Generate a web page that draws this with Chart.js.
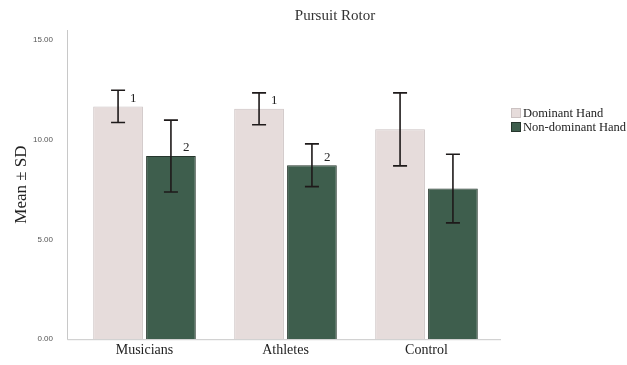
<!DOCTYPE html>
<html>
<head>
<meta charset="utf-8">
<script src="https://cdn.jsdelivr.net/npm/chart.js@4"></script>
<style>
  html, body { margin: 0; padding: 0; background: #fff; overflow: hidden; }
  canvas { display: block; }
</style>
</head>
<body>
<canvas id="rotorChart" width="627" height="365"></canvas>
<script>
'use strict';

// Datos
const groups = ['Musicians', 'Athletes', 'Control'];
const dominantMean = [11.67, 11.55, 10.52];
const dominantSd = [0.81, 0.80, 1.83];
const nonDominantMean = [9.18, 8.72, 7.55];
const nonDominantSd = [1.80, 1.07, 1.72];
const dominantNotes = ['1', '1', ''];
const nonDominantNotes = ['2', '2', ''];
const yTicks = [0, 5, 10, 15];

const serif = '"Liberation Serif", "DejaVu Serif", serif';

const errorBars = {
    id: 'errorBars',
    afterDatasetsDraw(chart) {
        const ctx = chart.ctx;
        const y = chart.scales.y;
        const sds = [dominantSd, nonDominantSd];
        const notes = [dominantNotes, nonDominantNotes];
        ctx.save();
        chart.data.datasets.forEach((ds, di) => {
            const meta = chart.getDatasetMeta(di);
            meta.data.forEach((bar, i) => {
                const m = ds.data[i];
                const sd = sds[di][i];
                const top = y.getPixelForValue(m + sd);
                const bot = y.getPixelForValue(m - sd);
                ctx.strokeStyle = '#1e1a1a';
                ctx.lineWidth = 1.6;
                ctx.beginPath();
                ctx.moveTo(bar.x, top);
                ctx.lineTo(bar.x, bot);
                ctx.moveTo(bar.x - 7, top);
                ctx.lineTo(bar.x + 7, top);
                ctx.moveTo(bar.x - 7, bot);
                ctx.lineTo(bar.x + 7, bot);
                ctx.stroke();
                if (notes[di][i]) {
                    ctx.fillStyle = '#222';
                    ctx.font = '13px ' + serif;
                    ctx.textAlign = 'left';
                    ctx.textBaseline = 'middle';
                    ctx.fillText(notes[di][i], bar.x + 12, bar.y - 8);
                }
            });
        });
        ctx.restore();
    }
};

const decorations = {
    id: 'decorations',
    afterDraw(chart) {
        const ctx = chart.ctx;
        const a = chart.chartArea;
        const x = chart.scales.x;
        ctx.save();
        // ejes
        ctx.strokeStyle = '#c8c8c8';
        ctx.lineWidth = 1;
        ctx.beginPath();
        ctx.moveTo(a.left - 6.5, a.top);
        ctx.lineTo(a.left - 6.5, a.bottom + 0.5);
        ctx.lineTo(a.right + 4, a.bottom + 0.5);
        ctx.stroke();
        // etiquetas del eje x
        ctx.fillStyle = '#222';
        ctx.font = '14px ' + serif;
        ctx.textAlign = 'center';
        ctx.textBaseline = 'middle';
        chart.data.labels.forEach((lab, i) => {
            ctx.fillText(lab, x.getPixelForValue(i), a.bottom + 11);
        });
        // título
        ctx.fillStyle = '#333';
        ctx.font = '15px ' + serif;
        ctx.fillText('Pursuit Rotor', 335, 16);
        // leyenda
        const items = chart.data.datasets;
        ctx.font = '12.5px ' + serif;
        ctx.textAlign = 'left';
        items.forEach((ds, i) => {
            const ly = 113 + i * 14;
            ctx.fillStyle = ds.backgroundColor;
            ctx.fillRect(511, ly - 5, 10, 10);
            ctx.strokeStyle = ds.borderColor;
            ctx.strokeRect(511.5, ly - 4.5, 9, 9);
            ctx.fillStyle = '#222';
            ctx.fillText(ds.label, 523, ly + 0.5);
        });
        ctx.restore();
    }
};

const chart = new Chart(document.getElementById('rotorChart'), {
    type: 'bar',
    data: {
        labels: groups,
        datasets: [{
            label: 'Dominant Hand',
            data: dominantMean,
            backgroundColor: '#e6dcdb',
            borderColor: '#cbc2c2',
            borderWidth: 1,
            categoryPercentage: 0.75,
            barPercentage: 0.94
        }, {
            label: 'Non-dominant Hand',
            data: nonDominantMean,
            backgroundColor: '#3e5e4d',
            borderColor: '#26362d',
            borderWidth: 1,
            categoryPercentage: 0.75,
            barPercentage: 0.94
        }]
    },
    options: {
        responsive: false,
        animation: false,
        devicePixelRatio: 1,
        layout: { padding: { top: 30, right: 130, bottom: 0, left: 0 } },
        plugins: {
            legend: { display: false },
            title: { display: false },
            tooltip: { enabled: false }
        },
        scales: {
            x: {
                grid: { display: false, drawTicks: false },
                border: { display: false },
                afterFit(scale) { scale.height = 12.2; },
                ticks: { display: false }
            },
            y: {
                min: 0,
                max: 15.5,
                grid: { display: false, drawTicks: false },
                border: { display: false },
                afterFit(scale) { scale.width = 74; },
                afterBuildTicks(scale) {
                    scale.ticks = yTicks.map(v => ({ value: v }));
                },
                ticks: {
                    padding: 21,
                    color: '#555',
                    font: { family: '"Liberation Sans", sans-serif', size: 8 },
                    callback: v => Number(v).toFixed(2)
                },
                title: {
                    display: true,
                    text: 'Mean ± SD',
                    color: '#222',
                    font: { family: serif, size: 17 },
                    padding: { top: 11, bottom: 0 }
                }
            }
        }
    },
    plugins: [errorBars, decorations]
});
</script>
</body>
</html>
